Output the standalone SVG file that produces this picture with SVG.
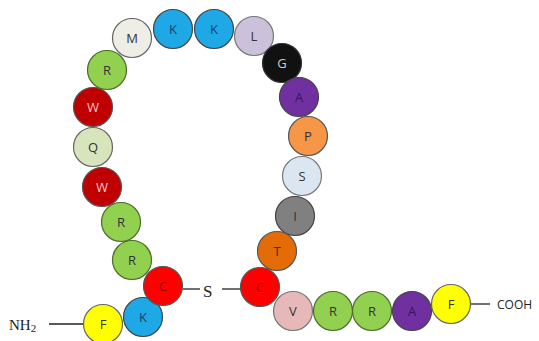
<svg xmlns="http://www.w3.org/2000/svg" width="539" height="341" viewBox="0 0 539 341">
<style>
.n circle{stroke-width:1.2}
.n text{font-family:"Open Sans","Liberation Sans",sans-serif;font-size:13px;text-anchor:middle;fill:#333}
.line{stroke:#222;stroke-width:1.3;fill:none}
.lbl{font-family:"Liberation Serif",serif;font-size:15px;fill:#222}
</style>
<rect width="539" height="341" fill="#fff"/>
<g id="connectors">
<line class="line" x1="49" y1="324" x2="83" y2="324"/>
<line class="line" x1="183" y1="289" x2="200" y2="289"/>
<line class="line" x1="222" y1="289" x2="241" y2="289"/>
<line class="line" x1="471" y1="304" x2="490" y2="304"/>
</g>
<text class="lbl" x="9" y="330">NH<tspan font-size="11" dy="2">2</tspan></text>
<text class="lbl" x="203" y="297" style="font-size:17px">S</text>
<text x="497" y="309" style="font-family:'Open Sans','Liberation Sans',sans-serif;font-size:12px;fill:#222">COOH</text>
<g id="n1" class="n"><circle cx="103" cy="324" r="19.5" fill="#ffff00" stroke="#666"/><text x="103" y="329">F</text></g>
<g id="n2" class="n"><circle cx="143" cy="317" r="19.5" fill="#1ea9e6" stroke="#444"/><text x="143" y="322" style="fill:#1f3d6e">K</text></g>
<g id="n3" class="n"><circle cx="163" cy="286" r="19.5" fill="#ff0000" stroke="#555"/><text x="163" y="291" style="fill:#a00000">C</text></g>
<g id="n4" class="n"><circle cx="132" cy="260" r="19.5" fill="#92d050" stroke="#4d6b2a"/><text x="132" y="265">R</text></g>
<g id="n5" class="n"><circle cx="121" cy="222" r="19.5" fill="#92d050" stroke="#4d6b2a"/><text x="121" y="227">R</text></g>
<g id="n6" class="n"><circle cx="102" cy="187" r="19.5" fill="#c00000" stroke="#555"/><text x="102" y="192" style="fill:#f7c4c4">W</text></g>
<g id="n7" class="n"><circle cx="93" cy="147" r="19.5" fill="#d8e4bc" stroke="#666"/><text x="93" y="152">Q</text></g>
<g id="n8" class="n"><circle cx="93" cy="107" r="19.5" fill="#c00000" stroke="#555"/><text x="93" y="112" style="fill:#f7c4c4">W</text></g>
<g id="n9" class="n"><circle cx="107" cy="70" r="19.5" fill="#92d050" stroke="#4d6b2a"/><text x="107" y="75">R</text></g>
<g id="n10" class="n"><circle cx="132" cy="38" r="19.5" fill="#eeeee6" stroke="#666"/><text x="132" y="43">M</text></g>
<g id="n11" class="n"><circle cx="173" cy="29" r="19.5" fill="#1ea9e6" stroke="#444"/><text x="173" y="34" style="fill:#1f3d6e">K</text></g>
<g id="n12" class="n"><circle cx="214" cy="29" r="19.5" fill="#1ea9e6" stroke="#444"/><text x="214" y="34" style="fill:#1f3d6e">K</text></g>
<g id="n13" class="n"><circle cx="254" cy="36" r="19.5" fill="#ccc1da" stroke="#777"/><text x="254" y="41">L</text></g>
<g id="n14" class="n"><circle cx="282" cy="63" r="19.5" fill="#111111" stroke="#333"/><text x="282" y="68" style="fill:#ccc">G</text></g>
<g id="n15" class="n"><circle cx="299" cy="97" r="19.5" fill="#7030a0" stroke="#444"/><text x="299" y="102" style="fill:#3b1460">A</text></g>
<g id="n16" class="n"><circle cx="308" cy="136" r="19.5" fill="#f79646" stroke="#555"/><text x="308" y="141">P</text></g>
<g id="n17" class="n"><circle cx="302" cy="176" r="19.5" fill="#dce6f2" stroke="#777"/><text x="302" y="181">S</text></g>
<g id="n18" class="n"><circle cx="295" cy="216" r="19.5" fill="#808080" stroke="#444"/><text x="295" y="221">I</text></g>
<g id="n19" class="n"><circle cx="277" cy="251" r="19.5" fill="#e36c09" stroke="#555"/><text x="277" y="256">T</text></g>
<g id="n20" class="n"><circle cx="260" cy="287" r="19.5" fill="#ff0000" stroke="#555"/><text x="260" y="292" style="fill:#a00000">C</text></g>
<g id="n21" class="n"><circle cx="293" cy="311" r="19.5" fill="#e6b9b8" stroke="#777"/><text x="293" y="316">V</text></g>
<g id="n22" class="n"><circle cx="333" cy="311" r="19.5" fill="#92d050" stroke="#4d6b2a"/><text x="333" y="316">R</text></g>
<g id="n23" class="n"><circle cx="372" cy="311" r="19.5" fill="#92d050" stroke="#4d6b2a"/><text x="372" y="316">R</text></g>
<g id="n24" class="n"><circle cx="412" cy="311" r="19.5" fill="#7030a0" stroke="#444"/><text x="412" y="316" style="fill:#3b1460">A</text></g>
<g id="n25" class="n"><circle cx="451" cy="304" r="19.5" fill="#ffff00" stroke="#666"/><text x="451" y="309">F</text></g>
</svg>
